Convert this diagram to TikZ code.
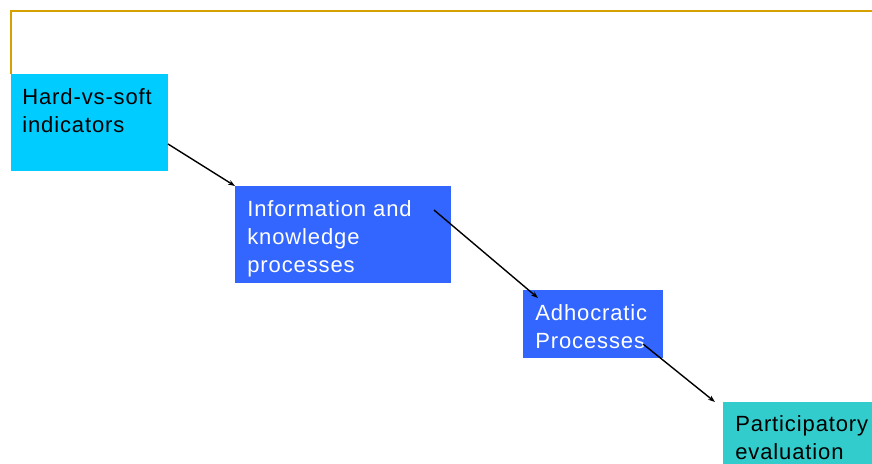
\documentclass[tikz,border=0pt]{standalone}
\usepackage{fontspec}
\setmainfont{Liberation Sans}
\newfontfamily\boxfont[LetterSpace=4]{Liberation Sans}
\usetikzlibrary{arrows.meta}
\definecolor{mycyan}{RGB}{0,204,255}
\definecolor{myblue}{RGB}{51,102,255}
\definecolor{myteal}{RGB}{51,204,204}
\definecolor{mygold}{RGB}{214,160,0}
\tikzset{every picture/.style={line width=0.75pt}}
\tikzset{
  boxfill/.style={draw opacity=0, inner sep=0pt, anchor=north west},
  boxtext/.style={anchor=north west, inner sep=0pt, align=left, font=\boxfont\fontsize{22}{28}\selectfont},
  flowarrow/.style={line width=1.4pt, -{Stealth[length=7pt,width=5pt]}}
}

\begin{document}
\begin{tikzpicture}[x=1pt,y=1pt,yscale=-1]
\useasboundingbox (0,0) rectangle (872,463);

%Straight Lines: frame corner
\draw [color=mygold, line width=2pt] (10.5,74) -- (10.5,10.5) -- (872,10.5);

%Shape: Rectangle
\node [boxfill, fill=mycyan, minimum width=157pt, minimum height=97pt] (hard) at (11,74) {};
%Shape: Rectangle
\node [boxfill, fill=myblue, minimum width=216pt, minimum height=97pt] (info) at (235,186) {};
%Shape: Rectangle
\node [boxfill, fill=myblue, minimum width=140pt, minimum height=68pt] (adho) at (523,290) {};
%Shape: Rectangle
\node [boxfill, fill=myteal, minimum width=160pt, minimum height=70pt] (part) at (723,402) {};

% Text Node
\node [boxtext] (hardtxt) at (22,88) {Hard-vs-soft\\indicators};
% Text Node
\node [boxtext, text=white] (infotxt) at (247,200) {Information and\\knowledge\\processes};
% Text Node
\node [boxtext, text=white] (adhotxt) at (535,304) {Adhocratic\\Processes};
% Text Node
\node [boxtext] (parttxt) at (735,415) {Participatory\\evaluation};

%Straight Lines
\coordinate (hardout) at (168,144);
\coordinate (infoout) at (434,210);
\coordinate (adhoin) at (538,298);
\coordinate (adhoout) at (643,344);
\coordinate (partin) at (715,402);
\draw [flowarrow] (hardout) -- (info.north west);
\draw [flowarrow] (infoout) -- (adhoin);
\draw [flowarrow] (adhoout) -- (partin);

\end{tikzpicture}
\end{document}
